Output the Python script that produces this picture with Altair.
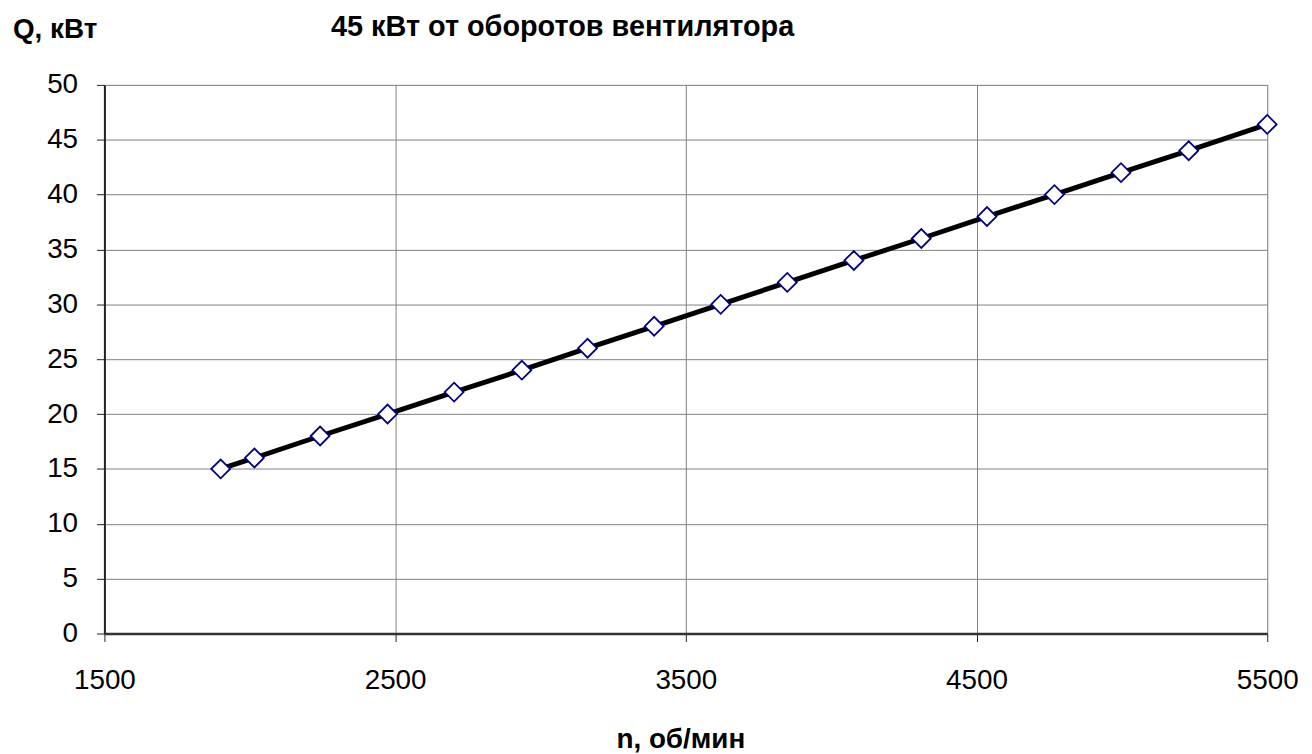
import altair as alt
import pandas as pd

rpm = [1900, 2016, 2242, 2474, 2703, 2936, 3162, 3391, 3620, 3849, 4078, 4310, 4536, 4768, 4997, 5230, 5500]
power = [15, 16, 18, 20, 22, 24, 26, 28, 30, 32, 34, 36, 38, 40, 42, 44, 46.4]

x_ticks = [1500, 2500, 3500, 4500, 5500]
y_ticks = [0, 5, 10, 15, 20, 25, 30, 35, 40, 45, 50]

chart_title = "45 кВт от оборотов вентилятора"
y_title = "Q, кВт"
x_title = "n, об/мин"

df = pd.DataFrame({"rpm": rpm, "power": power})
FONT = "Liberation Sans"

W, H = 1170, 552

x_enc = alt.X("rpm:Q", scale=alt.Scale(domain=[1500, 5500], nice=False, zero=False),
              axis=alt.Axis(values=x_ticks, title=None, format="d",
                            labelFont=FONT, labelFontSize=28, labelColor="black", labelPadding=25,
                            tickSize=8, tickColor="#222222", domainColor="#333333", domainWidth=2.5,
                            gridColor="#808080", gridWidth=1, labelFlush=False))
y_enc = alt.Y("power:Q", scale=alt.Scale(domain=[0, 50], nice=False),
              axis=alt.Axis(values=y_ticks, title=None,
                            labelFont=FONT, labelFontSize=28, labelColor="black", labelPadding=19,
                            tickSize=8, tickColor="#222222", domainColor="#222222", domainWidth=2,
                            gridColor="#808080", gridWidth=1))

line = alt.Chart(df).mark_line(color="black", strokeWidth=5).encode(x=x_enc, y=y_enc)
pts = alt.Chart(df).mark_point(shape="diamond", filled=True, fill="white", stroke="#000080",
                               strokeWidth=1.8, size=360, opacity=1).encode(x="rpm:Q", y="power:Q")

title_txt = alt.Chart(pd.DataFrame({"t": [chart_title]})).mark_text(
    font=FONT, fontSize=29, fontWeight="bold", align="left", baseline="alphabetic", color="black"
).encode(text="t:N", x=alt.value(228), y=alt.value(-49))

ytitle_txt = alt.Chart(pd.DataFrame({"t": [y_title]})).mark_text(
    font=FONT, fontSize=28, fontWeight="bold", align="left", baseline="alphabetic", color="black"
).encode(text="t:N", x=alt.value(-92), y=alt.value(-47))

xtitle_txt = alt.Chart(pd.DataFrame({"t": [x_title]})).mark_text(
    font=FONT, fontSize=28, fontWeight="bold", align="center", baseline="alphabetic", color="black"
).encode(text="t:N", x=alt.value(580), y=alt.value(667))

chart = alt.layer(line, pts, title_txt, ytitle_txt, xtitle_txt).properties(
    width=W, height=H,
    autosize=alt.AutoSizeParams(type="none"),
    padding={"left": 97, "top": 75, "right": 37, "bottom": 140},
).configure_view(stroke="#808080", strokeWidth=2).configure(background="white")

chart.save("out.html", embed_options={"renderer": "svg", "actions": False})
